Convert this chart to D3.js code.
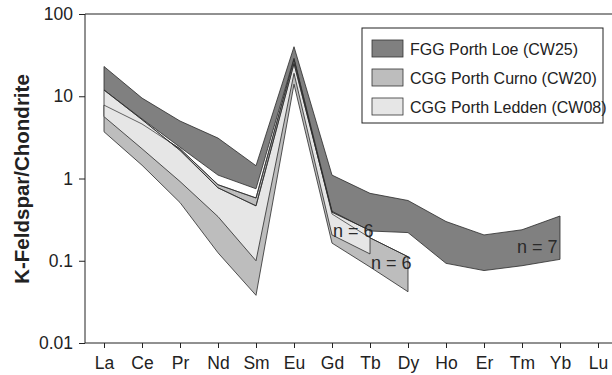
<!DOCTYPE html>
<html><head><meta charset="utf-8">
<script src="https://cdn.jsdelivr.net/npm/d3@7/dist/d3.min.js"></script>
<style>
html,body{margin:0;padding:0;background:#fff;}
svg{display:block;font-family:"Liberation Sans",Arial,Helvetica,sans-serif;}
</style></head>
<body><svg id="c" width="612" height="375"></svg>
<script>
const elements = ["La","Ce","Pr","Nd","Sm","Eu","Gd","Tb","Dy","Ho","Er","Tm","Yb","Lu"];
const yTicks = [0.01, 0.1, 1, 10, 100];
const yTickLabels = ["0.01", "0.1", "1", "10", "100"];

// FGG Porth Loe (CW25): La..Yb
const fggUpper = [23, 9.5, 5.0, 3.1, 1.43, 40, 1.1, 0.66, 0.54, 0.30, 0.206, 0.238, 0.35];
const fggLower = [11.9, 5.3, 2.4, 1.1, 0.75, 29, 0.40, 0.23, 0.22, 0.093, 0.076, 0.087, 0.104];
// CGG Porth Curno (CW20): La..Dy
const curnoUpper = [7.8, 4.6, 2.3, 0.84, 0.58, 28, 0.37, 0.19, 0.112];
const curnoLower = [3.7, 1.45, 0.51, 0.125, 0.038, 14, 0.164, 0.084, 0.042];
// CGG Porth Ledden (CW08): La..Tb
const leddenUpper = [11.9, 5.2, 2.2, 0.77, 0.465, 25, 0.39, 0.233];
const leddenLower = [5.65, 2.3, 0.92, 0.344, 0.1, 19, 0.206, 0.121];

const seriesNames = ["FGG Porth Loe (CW25)", "CGG Porth Curno (CW20)", "CGG Porth Ledden (CW08)"];
const seriesColors = ["#808080", "#bdbdbd", "#e6e6e6"];
const nLabels = ["n = 6", "n = 6", "n = 7"];

const svg = d3.select("#c");
const x = d3.scaleLinear().domain([0.5, 14.5]).range([85, 617]);
const y = d3.scaleLog().domain([0.01, 100]).range([343, 14]);

const bands = [
  {upper: fggUpper, lower: fggLower, color: seriesColors[0]},
  {upper: curnoUpper, lower: curnoLower, color: seriesColors[1]},
  {upper: leddenUpper, lower: leddenLower, color: seriesColors[2]}
];
const area = d3.area()
  .x(d => x(d.i + 1)).y0(d => y(d.lo)).y1(d => y(d.hi)).curve(d3.curveLinear);
bands.forEach(b => {
  b.pts = b.upper.map((v, i) => ({i, hi: v, lo: b.lower[i]}));
});
const g = svg.append("g");
bands.forEach(b => {
  g.append("path").datum(b.pts).attr("d", area)
    .attr("fill", b.color).attr("stroke", "#2a2a2a").attr("stroke-width", 0.8)
    .attr("stroke-linejoin", "miter");
});
const line = d3.line().x(d => x(d.i + 1));
bands.slice(1).forEach(b => {
  g.append("path").datum(b.pts).attr("d", line.y(d => y(d.hi)))
    .attr("fill", "none").attr("stroke", "#2a2a2a").attr("stroke-width", 0.7);
});

// n labels
const nPos = [
  {xi: 7, v: 0.195, dx: 1},
  {xi: 8, v: 0.08, dx: 1},
  {xi: 12, v: 0.125, dx: -5}
];
nPos.forEach((p, k) => {
  svg.append("text").attr("x", x(p.xi) + p.dx).attr("y", y(p.v))
    .attr("font-size", 18).attr("fill", "#2a2a2a").text(nLabels[k]);
});

// axes
const xAxis = d3.axisBottom(x).tickValues(d3.range(1, 15))
  .tickFormat(d => elements[d - 1]).tickSize(5).tickPadding(9);
const gx = svg.append("g").attr("transform", "translate(0,343)").call(xAxis);
gx.select(".domain").attr("d", "M85,0H612").attr("stroke", "#222");
gx.selectAll(".tick line").attr("stroke", "#222");
gx.selectAll("text").attr("font-size", 17.5).attr("fill", "#222").attr("font-family", "Liberation Sans, Arial, sans-serif");

const yAxis = d3.axisLeft(y).tickValues(yTicks)
  .tickFormat((d, i) => yTickLabels[i]).tickSize(6).tickPadding(6);
const gy = svg.append("g").attr("transform", "translate(85,0)").call(yAxis);
gy.select(".domain").attr("d", "M0,14V343").attr("stroke", "#222");
gy.selectAll(".tick line").attr("stroke", "#222");
gy.selectAll("text").attr("font-size", 17.5).attr("fill", "#222").attr("font-family", "Liberation Sans, Arial, sans-serif");

svg.append("line").attr("x1", 85).attr("x2", 612).attr("y1", 14).attr("y2", 14)
  .attr("stroke", "#222");

svg.append("text").attr("transform", "translate(29,179) rotate(-90)")
  .attr("text-anchor", "middle").attr("font-size", 20.5).attr("font-weight", "bold")
  .attr("fill", "#222").text("K-Feldspar/Chondrite");

// legend
const lg = svg.append("g");
lg.append("rect").attr("x", 362).attr("y", 28).attr("width", 241).attr("height", 95)
  .attr("fill", "#fff").attr("stroke", "#222").attr("stroke-width", 1);
seriesNames.forEach((nm, i) => {
  lg.append("rect").attr("x", 372).attr("y", 40 + i * 29).attr("width", 31).attr("height", 17)
    .attr("fill", seriesColors[i]).attr("stroke", "#333").attr("stroke-width", 0.8);
  lg.append("text").attr("x", 410).attr("y", 55 + i * 29).attr("font-size", 16)
    .attr("fill", "#222").text(nm);
});
</script></body></html>
